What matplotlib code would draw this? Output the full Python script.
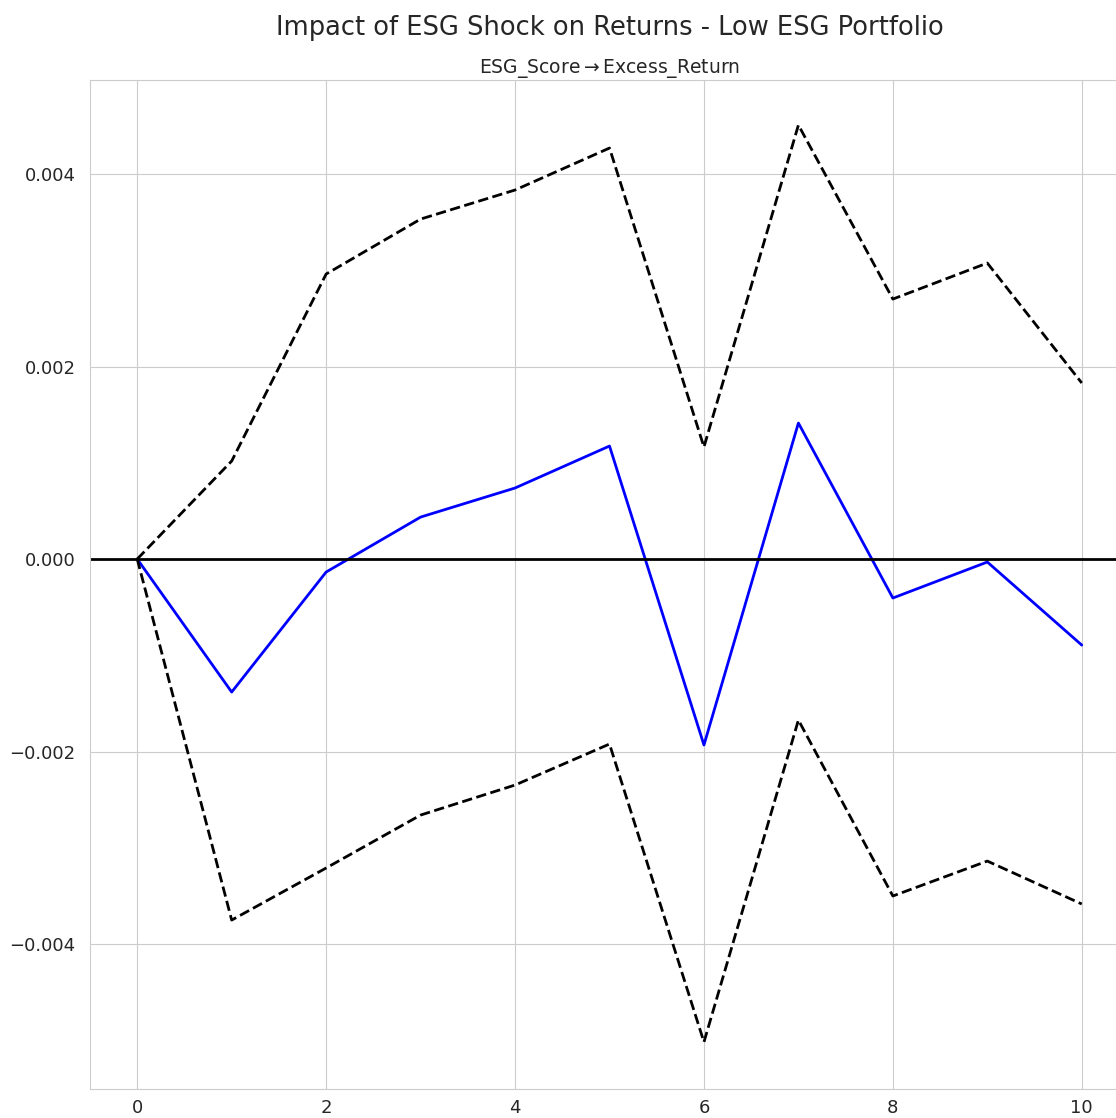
import numpy as np
import seaborn as sns
import matplotlib
matplotlib.use("Agg")
import matplotlib.pyplot as plt

sns.set_style("whitegrid")

# impulse response periods and values (ESG_Score -> Excess_Return)
periods = list(range(11))
irf = [0.0, -0.001382, -0.000135, 0.000436, 0.000738, 0.001174,
       -0.001932, 0.001413, -0.000405, -0.000031, -0.000894]
upper = [0.0, 0.001018, 0.002961, 0.003532, 0.003834, 0.004270,
         0.001164, 0.004509, 0.002701, 0.003075, 0.001829]
lower = [0.0, -0.003751, -0.003210, -0.002660, -0.002348, -0.001922,
         -0.005018, -0.001673, -0.003501, -0.003138, -0.003584]

fig = plt.figure(figsize=(11.16, 11.18), dpi=100)
ax = fig.add_axes([90 / 1116, 1 - 1089 / 1118, 1039 / 1116, 1009 / 1118])

ax.plot(periods, irf, color='blue', linewidth=2)
ax.plot(periods, upper, 'k--', linewidth=2)
ax.plot(periods, lower, 'k--', linewidth=2)
ax.axhline(0, color='k', linewidth=2)

ax.set_xlim(-0.5, 10.5)
ax.set_ylim(-0.005506, 0.004977)
ax.set_yticks([-0.004, -0.002, 0.0, 0.002, 0.004])
ax.set_yticklabels(['\u22120.004', '\u22120.002', '0.000', '0.002', '0.004'])
ax.set_xticks([0, 2, 4, 6, 8, 10])
ax.tick_params(labelsize=13)
ax.tick_params(axis='y', pad=7)

ax.set_title('ESG_Score$\\rightarrow$Excess_Return', fontsize=13.5, pad=5)
fig.suptitle('Impact of ESG Shock on Returns - Low ESG Portfolio', fontsize=18.5,
             x=609.5 / 1116, y=0.987)

fig.savefig('out.png', dpi=100)
